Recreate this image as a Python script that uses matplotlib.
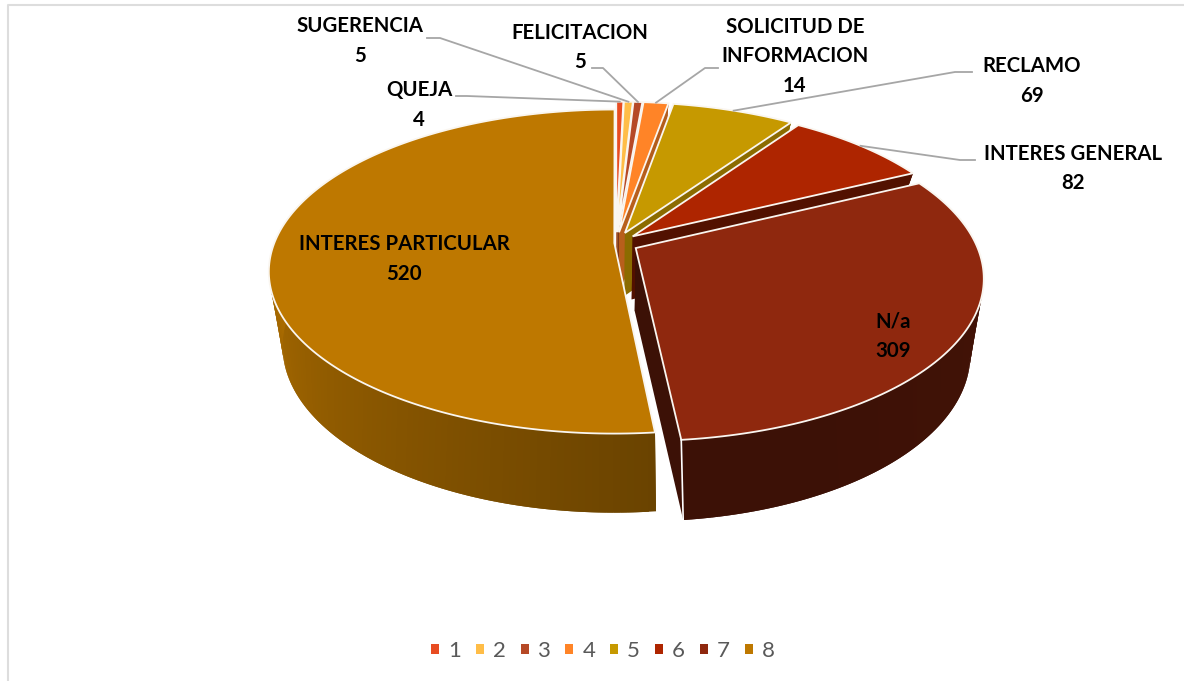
import numpy as np
import matplotlib
matplotlib.use("Agg")
import matplotlib.pyplot as plt
from matplotlib.patches import Patch

names = ["QUEJA", "SUGERENCIA", "FELICITACION", "SOLICITUD DE\nINFORMACION", "RECLAMO",
         "INTERES GENERAL", "N/a", "INTERES PARTICULAR"]
values = [4, 5, 5, 14, 69, 82, 309, 520]
legend_labels = ["1", "2", "3", "4", "5", "6", "7", "8"]
colors = ["#E84C22", "#FFBD47", "#B64926", "#FF8427", "#C69900", "#AE2500", "#8F280E", "#BE7800"]
explode = [0.07, 0.07, 0.07, 0.07, 0.07, 0.065, 0.066, 0.005]
face_shade = [0.7, 0.7, 0.7, 0.72, 0.7, 0.47, 0.42, 0.6]
wall_shade = [(0.7, 0.7), (0.7, 0.7), (0.7, 0.7), (0.7, 0.7), (0.7, 0.7), (0.47, 0.47),
              (0.5, 0.42), (0.56, 0.9)]
label_xy = [(419, 105), (360, 41), (580, 47.5), (795, 56.5), (1032, 81), (1073, 168.5), (893, 336), (404, 259)]
leader_knee = [[(456, 96), (467, 96)], [(427, 38), (440, 38)], [(592, 68), (603, 68)],
               [(718, 68), (705, 68)], [(972, 72), (955, 72)], [(975, 160), (960, 160)]]

# projection of the pie disc, top plane and bottom plane
CX, CY = 616, 243
A, B, P = 340, 157, 0.176
A2, B2, P2, CY2 = 322, 157, 0.24, 306


def top_pt(x, y):
    d = 1 + P * y
    return CX + A * x / d, CY - B * y / d


def bot_pt(x, y):
    d = 1 + P2 * y
    return CX + A2 * x / d, CY2 - B2 * y / d


def shade(c, f):
    r, g, b = matplotlib.colors.to_rgb(c)
    return (r * f, g * f, b * f)


fig = plt.figure(figsize=(11.84, 6.81), dpi=100)
ax = fig.add_axes([0, 0, 1, 1])
ax.set_xlim(0, 1184)
ax.set_ylim(681, 0)
ax.axis("off")
plt.rcParams["font.family"] = ["Lato", "DejaVu Sans"]

ax.plot([8, 8, 1184], [681, 5, 5], color="#DDDDDD", lw=1.5)

total = sum(values)
edges = np.cumsum([0] + values) / total * 2 * np.pi
order = [0, 1, 2, 3, 4, 5, 7, 6]
rim = {}

for i in order:
    t0, t1 = edges[i], edges[i + 1]
    mid = (t0 + t1) / 2
    ox, oy = explode[i] * np.sin(mid), explode[i] * np.cos(mid)
    t = np.linspace(t0, t1, max(int((t1 - t0) * 60), 4))
    xs, ys = ox + np.sin(t), oy + np.cos(t)
    tx, ty = top_pt(xs, ys)
    bx, by = bot_pt(xs, ys)
    ax0, ay0 = top_pt(ox, oy)
    bx0, by0 = bot_pt(ox, oy)
    rim[i] = top_pt(ox + np.sin(mid), oy + np.cos(mid))

    # cut faces
    for k in (0, -1):
        ax.fill([ax0, tx[k], bx[k], bx0], [ay0, ty[k], by[k], by0],
                color=shade(colors[i], face_shade[i]), lw=0)
    # outer wall, each quad overlaps the next so the seams do not show
    s0, s1 = wall_shade[i]
    n = len(t)
    for k in range(n - 1):
        f = s0 + (s1 - s0) * min(1, (t[k] - t0) / (np.pi / 2))
        e = min(k + 3, n)
        ax.fill(np.r_[tx[k:e], bx[k:e][::-1]], np.r_[ty[k:e], by[k:e][::-1]],
                color=shade(colors[i], f), lw=0)
    if i == 6:
        ax.plot([tx[-1], bx[-1]], [ty[-1], by[-1]], color="white", lw=1.2)
    # top
    ax.fill(np.r_[ax0, tx], np.r_[ay0, ty], facecolor=colors[i], edgecolor="#FAF6F0", lw=1.3,
            joinstyle="miter")

for i in range(6):
    pts = leader_knee[i]
    ax.plot([pts[0][0], pts[1][0], rim[i][0]], [pts[0][1], pts[1][1], rim[i][1]],
            color="#A6A6A6", lw=1.3)

for i in range(len(names)):
    ax.text(label_xy[i][0], label_xy[i][1], names[i] + "\n" + str(values[i]), ha="center", va="center",
            fontsize=14.7, fontweight="bold", color="black", linespacing=1.62)

handles = [Patch(facecolor=c, edgecolor="none") for c in colors]
ax.legend(handles, legend_labels, ncol=8, loc="center", bbox_to_anchor=(603 / 1184, 1 - 651 / 681),
          frameon=False, fontsize=16, labelcolor="#595959", handlelength=0.36, handleheight=0.36,
          handletextpad=0.4, columnspacing=0.68)

fig.savefig("out.png", dpi=100)
